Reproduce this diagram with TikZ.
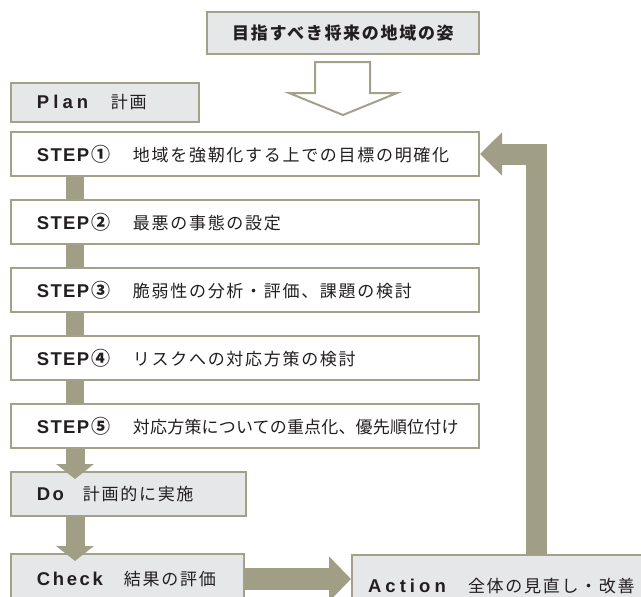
\documentclass[tikz,border=0pt]{standalone}
\usepackage{fontspec}
\setmainfont{Liberation Sans}
\newfontfamily\jpfont[LetterSpace=10]{Noto Sans CJK JP}
\newfontfamily\keyfont{Liberation Sans}
\usetikzlibrary{arrows.meta,calc}

\definecolor{framec}{HTML}{A3A189}
\definecolor{arrowc}{HTML}{A09F86}
\definecolor{boxgray}{HTML}{E6E7E8}
\definecolor{textc}{HTML}{231F20}

\newcommand{\boxfont}{\fontsize{17pt}{20pt}\selectfont}
\newcommand{\keyword}[3]{\makebox[#1][l]{\fontsize{18.5pt}{20pt}\keyfont\bfseries\addfontfeature{LetterSpace=#2}#3}}
\newcommand{\stepline}[3]{\makebox[96pt][l]{{\fontsize{18.5pt}{20pt}\keyfont\bfseries\addfontfeature{LetterSpace=7}STEP}\hspace{2pt}{\fontsize{19pt}{20pt}\jpfont\bfseries #1}}{\jpfont\addfontfeature{LetterSpace=#2}#3}}

\begin{document}
\begin{tikzpicture}[x=1pt, y=-1pt]
                  \tikzstyle{box}=[draw=framec, line width=2pt, fill=boxgray, anchor=north west,
                                   inner xsep=26pt, inner ysep=0pt, align=left, text=textc, font=\boxfont]
                  \tikzstyle{stepbox}=[box, fill=white, minimum width=468pt, minimum height=44pt, text width=416pt]
                  \tikzstyle{bar}=[draw=arrowc, line width=19pt]
                  \tikzstyle{hollow}=[draw=framec, line width=2pt, fill=white, line join=miter]

                  \useasboundingbox (0,0) rectangle (641,597);

                  \node[box, anchor=center, inner xsep=10pt, minimum width=272pt, minimum height=42pt, align=center]
                    (goal) at (343,33) {\jpfont\bfseries 目指すべき将来の地域の姿};
                  \draw[hollow] (goal.south) ++(-28,7) -- ++(55,0) -- ++(0,31) -- ++(27,0)
                    -- ++(-54,22) -- ++(-54,-22) -- ++(26,0) -- cycle;

                  \node[box, minimum width=188pt, minimum height=39pt, text width=136pt]
                    (plan) at (10,82) {\keyword{74pt}{22}{Plan}{\jpfont 計画}};

                  \foreach \i/\num/\sp/\txt in {1/①/10/地域を強靭化する上での目標の明確化,
                                                2/②/10/最悪の事態の設定,
                                                3/③/10/脆弱性の分析・評価、課題の検討,
                                                4/④/10/リスクへの対応方策の検討,
                                                5/⑤/1/対応方策についての重点化、優先順位付け}
                    \node[stepbox] (s\i) at (10,{131+68*(\i-1)}) {\stepline{\num}{\sp}{\txt}};

                  \node[box, minimum width=235pt, minimum height=44pt, text width=183pt]
                    (do) at (10,471) {\keyword{46pt}{12}{Do}{\jpfont 計画的に実施}};
                  \node[box, minimum width=233pt, minimum height=50pt, text width=181pt]
                    (check) at (10,553) {\keyword{87pt}{14}{Check}{\jpfont 結果の評価}};
                  \node[box, inner xsep=16pt, minimum width=300pt, minimum height=62pt, text width=268pt]
                    (action) at (351,554) {\keyword{100pt}{22}{Action}{\jpfont 全体の見直し・改善}};

                  % steps
                  \foreach \a/\b in {1/2,2/3,3/4,4/5}
                    \draw[bar, line width=18pt] ([xshift=65pt]s\a.south west) -- ([xshift=65pt]s\b.north west);

                  % PDCA
                  \draw[bar, -{Triangle[length=15pt,width=37pt]}]
                    ([xshift=65pt]s5.south west) -- ([xshift=65pt,yshift=-8pt]do.north west);
                  \draw[bar, -{Triangle[length=15pt,width=37pt]}]
                    ([xshift=65pt]do.south west) -- ([xshift=65pt,yshift=-8pt]check.north west);
                  \draw[bar, line width=22pt, -{Triangle[length=22pt,width=44pt]}]
                    (check.east) -- (check.east -| action.west);
                  \draw[bar, line width=21pt, -{Triangle[length=22pt,width=42pt]}]
                    ([xshift=185pt]action.north west) |- (s1.east);
                \end{tikzpicture}
\end{document}
